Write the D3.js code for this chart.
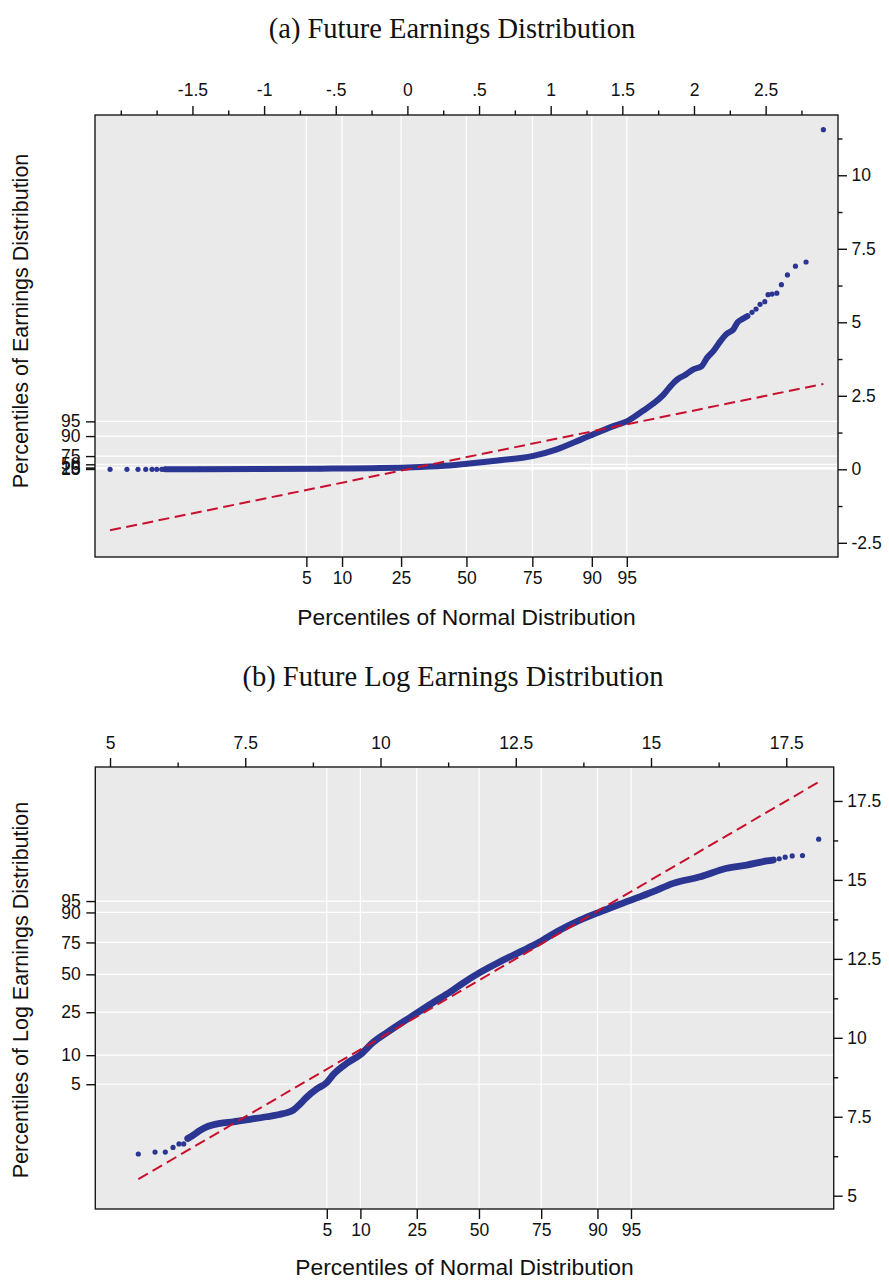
<!DOCTYPE html>
<html>
<head>
<meta charset="utf-8">
<script src="https://cdn.jsdelivr.net/npm/d3@7"></script>
<style>
  body { margin: 0; background: #ffffff; }
  svg { display: block; }
  .tick text { font-family: "Liberation Sans", Arial, sans-serif; font-size: 17.5px; fill: #111; }
  .tick line { stroke: #111; stroke-width: 1.4; }
</style>
</head>
<body>
<svg id="chart" width="889" height="1280"></svg>
<script>
// ---------- (a) Future earnings: sorted earnings vs. normal quantiles ----------
const pctLabels = ["5", "10", "25", "50", "75", "90", "95"];

const earnTopMajor = [-1.5, -1, -0.5, 0, 0.5, 1, 1.5, 2, 2.5];
const earnTopLabels = ["-1.5", "-1", "-.5", "0", ".5", "1", "1.5", "2", "2.5"];
const earnTopMinor = [-2, -1.75, -1.25, -0.75, -0.25, 0.25, 0.75, 1.25, 1.75, 2.25, 2.75];
const earnRightMajor = [-2.5, 0, 2.5, 5, 7.5, 10];
const earnRightLabels = ["-2.5", "0", "2.5", "5", "7.5", "10"];
const earnRightMinor = [-1.25, 1.25, 3.75, 6.25, 8.75, 11.25];

// percentile positions: normal (x) and empirical (y)
const earnNormalPct = [-0.705, -0.456, -0.044, 0.412, 0.872, 1.287, 1.531];
const earnDataPct = [0.01, 0.025, 0.06, 0.17, 0.45, 1.13, 1.63];

const earnLowTailX = [-2.075, -1.957, -1.880, -1.826, -1.782, -1.749, -1.714];
const earnLowTailY = [0, 0, 0, 0, 0, 0, 0];
const earnBodyX = [-1.69, -1.45, -1.03, -0.61, -0.19, 0.09, 0.23, 0.415, 0.647, 0.872, 1.043, 1.205,
  1.287, 1.438, 1.531, 1.647, 1.717, 1.786, 1.833, 1.880, 1.938, 1.996, 2.054, 2.089, 2.135, 2.182,
  2.224, 2.275, 2.303, 2.341, 2.373];
const earnBodyY = [0.0, 0.003, 0.01, 0.02, 0.04, 0.08, 0.11, 0.19, 0.31, 0.45, 0.68, 1.0,
  1.17, 1.47, 1.63, 2.0, 2.24, 2.53, 2.81, 3.04, 3.21, 3.40, 3.51, 3.78, 4.02, 4.34,
  4.59, 4.76, 4.99, 5.12, 5.21];
const earnHighTailX = [2.405, 2.433, 2.461, 2.494, 2.517, 2.545, 2.578, 2.610, 2.652, 2.708, 2.782, 2.903];
const earnHighTailY = [5.34, 5.45, 5.61, 5.70, 5.94, 5.96, 5.99, 6.28, 6.61, 6.91, 7.05, 11.55];
const earnRefX = [-2.075, 2.903];

// ---------- (b) Future log earnings ----------
const logTopMajor = [5, 7.5, 10, 12.5, 15, 17.5];
const logTopLabels = ["5", "7.5", "10", "12.5", "15", "17.5"];
const logTopMinor = [6.25, 8.75, 11.25, 13.75, 16.25];
const logRightMajor = [5, 7.5, 10, 12.5, 15, 17.5];
const logRightLabels = ["5", "7.5", "10", "12.5", "15", "17.5"];
const logRightMinor = [6.25, 8.75, 11.25, 13.75, 16.25];

const logNormalPct = [9.007, 9.628, 10.67, 11.82, 12.97, 14.01, 14.63];
const logDataPct = [8.53, 9.45, 10.81, 12.01, 13.02, 13.97, 14.33];

const logLowTailX = [5.523, 5.832, 6.022, 6.165, 6.275, 6.362];
const logLowTailY = [6.32, 6.38, 6.38, 6.53, 6.64, 6.64];
const logBodyX = [6.436, 6.54, 6.664, 6.787, 7.033, 7.279, 7.588, 7.896, 8.203, 8.388, 8.512, 8.635,
  8.82, 9.005, 9.128, 9.375, 9.621, 9.867, 10.115, 10.36, 10.67, 10.976, 11.285, 11.47, 11.84, 12.21,
  12.58, 12.95, 13.26, 13.69, 14.06, 14.55, 15.04, 15.41, 15.91, 16.40, 16.77, 17.14, 17.26];
const logBodyY = [6.81, 6.92, 7.07, 7.18, 7.29, 7.34, 7.42, 7.50, 7.60, 7.71, 7.90, 8.12,
  8.38, 8.58, 8.84, 9.19, 9.46, 9.86, 10.16, 10.44, 10.78, 11.12, 11.45, 11.67, 12.07, 12.41,
  12.72, 13.04, 13.36, 13.73, 13.99, 14.31, 14.63, 14.89, 15.10, 15.37, 15.47, 15.60, 15.63];
const logHighTailX = [17.37, 17.48, 17.61, 17.80, 18.10];
const logHighTailY = [15.67, 15.72, 15.76, 15.77, 16.29];
const logRefX = [5.523, 18.10];

// ---------- drawing ----------
const svg = d3.select("#chart");
const DOT = "#2b3592";
const REF = "#c8102e";
const zip = (xs, ys) => xs.map((v, i) => [v, ys[i]]);

function qqPanel(cfg) {
  const { box } = cfg;
  const g = svg.append("g");
  const x = d3.scaleLinear().domain(cfg.xDomain).range([box.left, box.right]);
  const y = d3.scaleLinear().domain(cfg.yDomain).range([box.bottom, box.top]);

  // plot background
  g.append("rect")
    .attr("x", box.left).attr("y", box.top)
    .attr("width", box.right - box.left).attr("height", box.bottom - box.top)
    .attr("fill", "#eaeaea");

  // percentile grid lines
  g.selectAll("line.vgrid").data(cfg.normalPct).join("line")
    .attr("x1", d => x(d)).attr("x2", d => x(d))
    .attr("y1", box.top).attr("y2", box.bottom)
    .attr("stroke", "#ffffff").attr("stroke-width", 1.2);
  g.selectAll("line.hgrid").data(cfg.dataPct).join("line")
    .attr("y1", d => y(d)).attr("y2", d => y(d))
    .attr("x1", box.left).attr("x2", box.right)
    .attr("stroke", "#ffffff").attr("stroke-width", 1.2);

  // dense run of overlapping quantile points
  const body = zip(cfg.bodyX, cfg.bodyY);
  g.append("path")
    .datum(body)
    .attr("d", d3.line().curve(d3.curveMonotoneX).x(d => x(d[0])).y(d => y(d[1])))
    .attr("fill", "none").attr("stroke", DOT)
    .attr("stroke-width", cfg.bandWidth)
    .attr("stroke-linecap", "round").attr("stroke-linejoin", "round");

  // individual quantile points
  const pts = zip(cfg.lowX, cfg.lowY).concat(body, zip(cfg.highX, cfg.highY));
  g.selectAll("circle").data(pts).join("circle")
    .attr("cx", d => x(d[0])).attr("cy", d => y(d[1]))
    .attr("r", 2.6).attr("fill", DOT);

  // 45-degree reference line
  g.append("path")
    .datum(cfg.refX.map(v => [v, v]))
    .attr("d", d3.line().x(d => x(d[0])).y(d => y(d[1])))
    .attr("fill", "none").attr("stroke", REF)
    .attr("stroke-width", 2).attr("stroke-dasharray", "11,5.5");

  // frame
  g.append("rect")
    .attr("x", box.left).attr("y", box.top)
    .attr("width", box.right - box.left).attr("height", box.bottom - box.top)
    .attr("fill", "none").attr("stroke", "#1a1a1a").attr("stroke-width", 1.4);

  const clean = sel => sel.select(".domain").remove();

  // top axis: normal quantiles in data units
  g.append("g").attr("transform", `translate(0,${box.top})`)
    .call(d3.axisTop(x).tickValues(cfg.topMinor).tickSize(4.5).tickFormat(""))
    .call(clean);
  g.append("g").attr("transform", `translate(0,${box.top})`)
    .call(d3.axisTop(x).tickValues(cfg.topMajor).tickSize(9).tickPadding(cfg.topPad)
      .tickFormat((d, i) => cfg.topLabels[i]))
    .call(clean);

  // right axis: data values
  g.append("g").attr("transform", `translate(${box.right},0)`)
    .call(d3.axisRight(y).tickValues(cfg.rightMinor).tickSize(4.5).tickFormat(""))
    .call(clean);
  g.append("g").attr("transform", `translate(${box.right},0)`)
    .call(d3.axisRight(y).tickValues(cfg.rightMajor).tickSize(9).tickPadding(4.5)
      .tickFormat((d, i) => cfg.rightLabels[i]))
    .call(clean);

  // bottom axis: percentiles of the normal distribution
  g.append("g").attr("transform", `translate(0,${box.bottom})`)
    .call(d3.axisBottom(x).tickValues(cfg.normalPct).tickSize(10).tickPadding(5)
      .tickFormat((d, i) => pctLabels[i]))
    .call(clean);

  // left axis: percentiles of the data
  g.append("g").attr("transform", `translate(${box.left},0)`)
    .call(d3.axisLeft(y).tickValues(cfg.dataPct).tickSize(9).tickPadding(5.5)
      .tickFormat((d, i) => pctLabels[i]))
    .call(clean);

  // panel heading
  svg.append("text")
    .attr("x", cfg.titleX).attr("y", cfg.titleY)
    .attr("text-anchor", "middle")
    .style("font-family", '"Liberation Serif", "Times New Roman", serif')
    .style("font-size", "28.5px").attr("fill", "#111")
    .text(cfg.title);

  // axis titles
  svg.append("text")
    .attr("x", (box.left + box.right) / 2).attr("y", cfg.xTitleY)
    .attr("text-anchor", "middle")
    .style("font-family", '"Liberation Sans", Arial, sans-serif')
    .style("font-size", "22.8px").attr("fill", "#111")
    .text("Percentiles of Normal Distribution");
  svg.append("text")
    .attr("transform", `translate(28,${cfg.yTitleCenter}) rotate(-90)`)
    .attr("text-anchor", "middle")
    .style("font-family", '"Liberation Sans", Arial, sans-serif')
    .style("font-size", "21.5px").attr("fill", "#111")
    .text(cfg.yTitle);
}

qqPanel({
  box: { left: 95, right: 838, top: 115, bottom: 557 },
  xDomain: [-2.18, 3.005], yDomain: [-2.983, 12.05],
  topMajor: earnTopMajor, topLabels: earnTopLabels, topMinor: earnTopMinor, topPad: 10,
  rightMajor: earnRightMajor, rightLabels: earnRightLabels, rightMinor: earnRightMinor,
  normalPct: earnNormalPct, dataPct: earnDataPct,
  lowX: earnLowTailX, lowY: earnLowTailY, bodyX: earnBodyX, bodyY: earnBodyY,
  highX: earnHighTailX, highY: earnHighTailY, refX: earnRefX, bandWidth: 6,
  title: "(a) Future Earnings Distribution", titleX: 452, titleY: 38,
  xTitleY: 625, yTitle: "Percentiles of Earnings Distribution", yTitleCenter: 321
});

qqPanel({
  box: { left: 95.3, right: 833.7, top: 767, bottom: 1209 },
  xDomain: [4.728, 18.377], yDomain: [4.579, 18.575],
  topMajor: logTopMajor, topLabels: logTopLabels, topMinor: logTopMinor, topPad: 9.5,
  rightMajor: logRightMajor, rightLabels: logRightLabels, rightMinor: logRightMinor,
  normalPct: logNormalPct, dataPct: logDataPct,
  lowX: logLowTailX, lowY: logLowTailY, bodyX: logBodyX, bodyY: logBodyY,
  highX: logHighTailX, highY: logHighTailY, refX: logRefX, bandWidth: 6.8,
  title: "(b) Future Log Earnings Distribution", titleX: 453, titleY: 686,
  xTitleY: 1275, yTitle: "Percentiles of Log Earnings Distribution", yTitleCenter: 990
});
</script>
</body>
</html>
